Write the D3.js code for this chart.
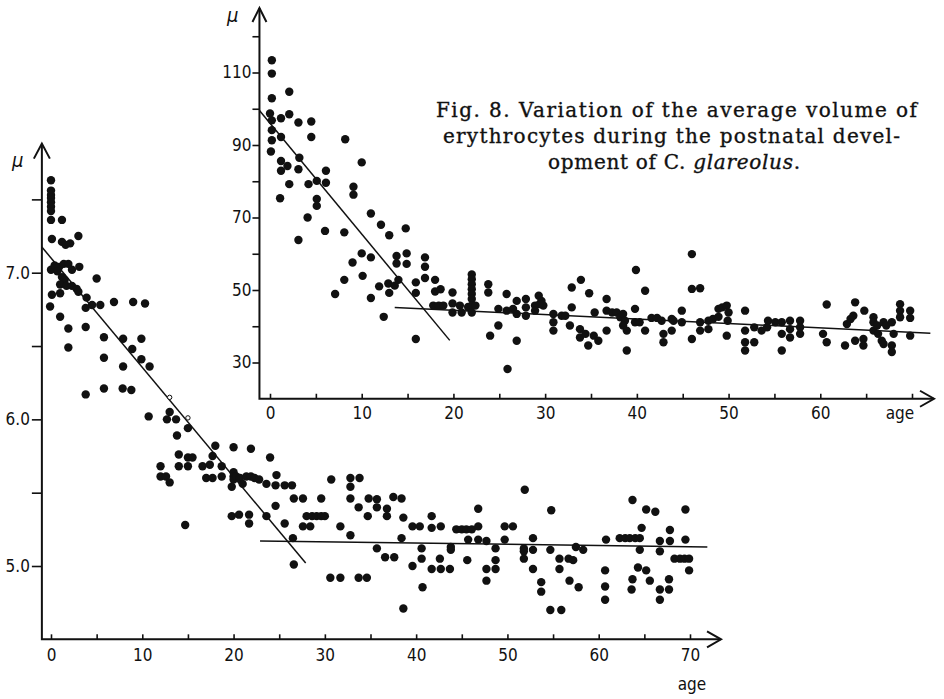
<!DOCTYPE html>
<html>
<head>
	<script src="https://d3js.org/d3.v7.min.js"></script>
	<title></title>
	<style type="text/css">
		body{ margin:0; background:#fff; }
		#chart{ width:944px; height:699px; }
		.tick text{ font-family:"DejaVu Sans Condensed","Liberation Sans Narrow","DejaVu Sans",sans-serif; font-stretch:condensed; font-size:17px; fill:#111; }
		.tick line{ stroke:#111; stroke-width:1.6px; }
		.axis-line{ fill:none; stroke:#111; stroke-width:2px; }
		.fit{ fill:none; stroke:#111; stroke-width:1.5px; }
		.lbl{ font-family:"DejaVu Sans Condensed","DejaVu Sans",sans-serif; font-stretch:condensed; font-size:17px; fill:#111; }
		.caption{ font-family:"DejaVu Serif","Liberation Serif",serif; font-size:20px; fill:#111; stroke:#111; stroke-width:0.35px; }
	</style>
</head>
<body>

	<div id="chart"></div>

	<script type="text/javascript">

		// lower panel: [age, volume]
		var lowerPts = [
			[0,7.63],[0,7.56],[0,7.53],[0,7.51],[0,7.48],[0,7.45],[0,7.42],[0,7.36],[0.1,7.23],[0,7.02],[0.1,6.85],[-0.1,6.77],
			[1.2,7.36],[1.2,7.21],[1.6,7.19],[2.1,7.20],[3,7.25],
			[0.4,7.05],[0.9,7.04],[1.4,7.06],[1.9,7.06],[2.3,7.02],[3.1,7.04],[0.7,7.01],[1.2,6.97],[1.5,6.95],[1.0,6.92],[1.7,6.91],
			[2.3,6.91],[2.8,6.89],[1.0,6.86],[3.0,6.87],[5.0,6.96],[3.9,6.83],[3.8,6.76],[4.5,6.78],[5.4,6.78],[1.0,6.70],[6.9,6.80],
			[9.0,6.80],[10.3,6.79],
			[1.9,6.62],[1.9,6.49],[3.8,6.63],[5.8,6.56],[5.8,6.42],[7.9,6.55],[7.9,6.36],[8.9,6.48],[9.9,6.55],[9.9,6.41],[10.8,6.36],
			[3.8,6.17],[5.8,6.21],[7.85,6.21],[8.8,6.20],[10.7,6.02],
			[13,6.05],[12.7,6.0],[13.7,6.0],[15,5.94],[13.8,5.89],
			[18,5.82],[20,5.81],[21.9,5.80],[24,5.74],
			[14,5.76],[15,5.74],[15.5,5.74],
			[12,5.68],[12,5.61],[12.6,5.61],[13,5.57],
			[14,5.68],[15,5.68],[16.6,5.68],[17.4,5.69],[17.7,5.75],[18.7,5.68],[20,5.64],
			[17,5.60],[17.7,5.60],[18.7,5.61],
			[20,5.61],[20,5.59],[20.3,5.61],[20.7,5.60],[21.4,5.61],[21.9,5.61],[22.3,5.60],[22.8,5.59],
			[19.8,5.54],[21,5.56],
			[23.6,5.56],[24.6,5.55],[24.7,5.62],[25.6,5.55],[26.4,5.55],[26.6,5.46],
			[24.6,5.41],
			[19.8,5.34],[20.6,5.35],[21.7,5.35],[21.7,5.29],[23.6,5.34],
			[14.7,5.28],
			[25.6,5.29],[26.5,5.19],[26.6,5.01],
			[27.6,5.46],[29.6,5.46],[27.6,5.27],[28.4,5.27],
			[28.0,5.34],[28.6,5.34],[29.1,5.34],[29.6,5.34],[30.0,5.34],
			[30.7,5.59],[31.7,5.27],
			[32.8,5.60],[32.8,5.54],[32.8,5.46],[32.8,5.21],
			[33.8,5.60],[33.7,5.40],[34.8,5.46],[34.7,5.34],
			[35.7,5.455],[35.7,5.40],[36.8,5.39],[36.8,5.34],
			[35.7,5.12],[36.6,5.06],[37.6,5.06],
			[37.5,5.47],[38.4,5.46],[38.6,5.33],[38.4,5.19],
			[30.6,4.92],[31.7,4.92],[33.7,4.92],[34.6,4.92],
			[38.6,4.71],
			[39.6,5.27],[40.4,5.27],[39.6,5.0],
			[40.6,5.12],[40.6,5.05],[40.7,4.855],
			[41.7,5.34],[41.7,5.26],[42.7,5.27],
			[42.6,5.05],[41.7,4.98],[42.7,4.98],[43.7,4.98],
			[43.8,5.13],[43.8,5.11],
			[44.4,5.25],[45.0,5.25],[45.5,5.25],[46.1,5.25],[46.8,5.27],
			[46.8,5.39],[45.7,5.18],[46.8,5.18],[45.6,5.04],
			[47.7,5.17],[47.7,4.98],[47.7,4.90],
			[48.7,5.12],[48.7,5.04],[48.7,4.98],
			[49.7,5.27],[50.6,5.27],[49.7,5.18],
			[51.9,5.52],[51.8,5.12],[51.8,5.10],[51.8,5.05],
			[52.8,5.19],[52.8,5.11],[52.8,4.98],
			[53.7,4.89],[53.7,4.825],
			[54.8,5.38],[54.7,5.11],[54.7,4.70],[55.9,4.70],
			[55.7,5.05],[55.7,4.98],
			[56.7,5.05],[57.2,5.04],[57.5,5.13],[58.3,5.11],
			[56.8,4.90],[57.8,4.855],
			[60.8,5.18],[60.7,4.97],[60.7,4.86],[60.7,4.77],
			[62.3,5.19],[62.9,5.19],[63.4,5.19],[64.0,5.19],[64.5,5.19],
			[63.7,5.45],[65.2,5.385],[66.2,5.37],[64.7,5.26],[64.5,5.11],
			[64.3,4.99],[65.2,4.97],[63.7,4.91],[63.6,4.84],[65.6,4.90],
			[66.7,5.17],[66.7,5.10],[66.7,4.84],[66.7,4.77],
			[67.8,5.245],[67.8,5.17],[67.7,4.91],[67.7,4.84],
			[68.3,5.05],[68.9,5.05],[69.4,5.05],[69.9,5.05],
			[69.5,5.385],[69.5,5.18],[69.9,4.97]
		];
		var lowerOpen = [[13,6.15],[15,6.01]];

		// upper panel: [age, volume]
		var upperPts = [
			[0.2,113.4],[0.2,109.7],[0.2,102.9],[0,98.7],[0.2,96.8],[0.2,94.1],[0.2,91.3],[0.1,88.2],
			[1.2,97.4],[1.2,92.2],[2.1,104.7],[2.1,98.5],
			[1.2,85.6],[1.2,82.9],[1.9,84.2],[2.1,79.2],
			[3.1,96.2],[3.2,86.5],[3.1,83.3],
			[4.5,96.5],[4.5,92.2],[4.2,79.2],
			[5.1,80.1],[6.1,82.9],[6.1,79.6],
			[8.2,91.6],[10,85.2],[9.1,78.5],[9.1,76.3],
			[1.1,75.3],[5.1,75.1],[5.1,73.2],[4.1,70.0],[3.1,63.8],[6.0,66.3],[8.1,65.9],
			[11.0,71.1],[12.1,68.0],[13.0,65.1],[14.8,67.0],
			[10.0,60.1],[9.0,57.6],[11.0,59.0],[13.8,59.4],[13.8,57.3],[14.9,60.1],[14.9,57.2],[16.9,59.0],[16.9,56.4],
			[8.1,52.8],[7.1,48.9],[10.1,53.9],[11.0,47.8],[11.9,51.0],[12.9,51.8],[13.0,49.2],[13.6,51.2],[14.0,52.8],
			[12.4,42.6],[15.9,52.1],[15.9,49.2],[16.9,53.3],[18.0,52.8],[18.0,49.6],[18.6,50.2],[15.9,36.5],
			[17.8,45.7],[18.4,45.7],[18.9,45.7],[19.9,49.3],[19.9,46.3],[19.9,43.8],[20.7,45.7],[20.9,43.8],[21.6,45.3],
			[22,54.3],[22,53.0],[22,51.6],[22,50.2],[22,48.9],[22,47.5],[22,45.7],[22,43.8],[22.4,45.7],
			[23.8,51.6],[23.8,49.3],[24,37.4],[24.9,44.8],[24.9,40.2],
			[25.8,48.9],[25.8,44.3],[26.5,44.8],[25.9,28.2],
			[26.9,47.0],[26.9,43.4],[26.9,36.0],
			[27.9,47.5],[27.9,45.2],[27.9,42.9],[28.9,45.7],[28.9,44.3],
			[29.3,48.4],[29.6,47.0],[29.8,45.7],[29.4,46.1],
			[30.9,43.4],[30.9,41.1],[30.9,38.8],[31.8,42.9],[32.2,42.9],[32.7,40.2],
			[32.9,50.7],[32.9,45.2],[33.9,52.8],[33.8,39.2],[33.8,36.9],[34.4,37.9],
			[34.8,49.1],[34.7,34.7],[35.3,37.4],[35.8,36.0],[35.4,43.8],
			[36.7,47.5],[36.7,44.3],[36.7,38.8],[37.3,43.8],[37.8,43.8],[38.2,42.5],
			[38.5,43.4],[38.7,41.5],[38.5,40.2],[38.9,38.8],[38.9,33.3],
			[39.9,55.5],[39.8,44.8],[39.8,41.1],[40.3,41.1],[40.9,49.8],[40.9,38.8],
			[41.6,42.3],[42.2,42.3],[42.7,41.5],[42.9,37.9],[42.9,35.6],
			[43.8,42.0],[44.0,41.5],[43.8,38.8],[44.9,44.3],[44.9,41.1],
			[46.0,59.9],[46.0,50.3],[46.9,50.5],[46.0,36.5],[46.9,41.1],[46.9,38.8],
			[47.8,41.5],[47.8,39.2],[48.3,42.0],[48.9,42.6],
			[48.9,44.8],[49.3,45.2],[49.8,45.7],[50.0,43.8],[49.9,41.5],[49.8,37.4],
			[51.8,44.3],[51.8,38.8],[51.8,35.6],[51.8,33.3],[52.8,39.7],[52.8,35.6],
			[53.6,38.8],[54.2,39.7],[54.3,41.5],[55.1,41.1],
			[55.8,41.1],[55.8,37.9],[55.8,33.3],
			[56.7,41.5],[56.7,39.2],[56.7,36.9],[57.8,41.5],[57.8,39.7],[57.8,37.9],
			[60.7,46.0],[60.3,37.9],[60.7,35.6],
			[62.7,34.7],[62.9,40.6],[63.3,42.0],[63.6,42.9],[63.8,46.6],
			[63.8,36.0],[64.7,36.5],[64.7,34.7],[64.8,44.3],
			[65.8,42.5],[65.8,41.1],[65.8,38.8],[66.2,40.2],[66.3,37.9],
			[66.7,36.0],[66.9,35.1],[66.9,41.1],[67.2,40.2],
			[67.8,41.1],[67.8,34.7],[67.8,32.9],[68,37.9],
			[68.7,46.1],[68.7,44.3],[68.7,42.5],
			[69.8,44.3],[69.8,42.3],[69.8,37.4]
		];

		var lowerFits = [ [[-1,7.175],[27.9,5.02]], [[22.9,5.17],[71.9,5.13]] ];
		var upperFits = [ [[-1.15,99.5],[19.6,36.1]], [[13.6,45.2],[72,38.1]] ];

		var ageTicks = d3.range(0, 71, 5);
		var lowerYTicks = [5, 5.5, 6, 6.5, 7, 7.5];
		var upperYTicks = [30, 40, 50, 60, 70, 80, 90, 100, 110, 120];

		var captionLines = [
			"Fig. 8. Variation of the average volume of",
			"erythrocytes during the postnatal devel-"
		];

		var svg = d3.select("#chart")
		  .append("svg")
		  .attr('height', 699)
		  .attr('width', 944)
		  .style('background-color', '#fff');

		// ---------- lower panel ----------
		var xL = d3.scaleLinear().domain([0, 70]).range([51, 690]);
		var yL = d3.scaleLinear().domain([5, 7]).range([566, 272.7]);

		var lx0 = xL(-1), ly0 = yL(4.5);

		svg.append('g').attr('transform', 'translate(0,' + ly0 + ')')
		  .call(d3.axisBottom(xL).tickValues(ageTicks).tickSize(-5).tickPadding(10)
		    .tickFormat(function(d){ return d % 10 == 0 ? d : ""; }))
		  .call(function(g){ g.select(".domain").remove(); });

		svg.append('g').attr('transform', 'translate(' + lx0 + ',0)')
		  .call(d3.axisLeft(yL).tickValues(lowerYTicks).tickSize(10).tickPadding(2)
		    .tickFormat(function(d){ return d % 1 == 0 ? d3.format(".1f")(d) : ""; }))
		  .call(function(g){ g.select(".domain").remove(); });

		svg.append('path').attr('class', 'axis-line')
		  .attr('d', 'M' + lx0 + ',' + yL(7.88) + 'V' + ly0 + 'H' + xL(73.4));
		svg.append('path').attr('class', 'axis-line')
		  .attr('d', 'M' + (lx0 - 8) + ',' + (yL(7.88) + 15) + 'L' + lx0 + ',' + yL(7.88) + 'L' + (lx0 + 8) + ',' + (yL(7.88) + 15));
		svg.append('path').attr('class', 'axis-line')
		  .attr('d', 'M' + (xL(73.4) - 14) + ',' + (ly0 - 8) + 'L' + xL(73.4) + ',' + ly0 + 'L' + (xL(73.4) - 14) + ',' + (ly0 + 8));

		svg.append('text').attr('class', 'lbl').attr('x', 692).attr('y', 690)
		  .attr('text-anchor', 'middle').text('age');
		svg.append('text').attr('class', 'lbl').attr('x', 12).attr('y', 167)
		  .style('font-style', 'italic').style('font-size', '20px').text('µ');

		var line = d3.line()
		  .x(function(d){ return xL(d[0]) })
		  .y(function(d){ return yL(d[1]) });

		svg.append('g').selectAll('path').data(lowerFits).enter()
		  .append('path').attr('class', 'fit').attr('d', line);

		svg.append('g').selectAll('circle').data(lowerPts).enter()
		  .append('circle')
		  .attr('cx', function(d){ return xL(d[0]) })
		  .attr('cy', function(d){ return yL(d[1]) })
		  .attr('r', 4.2)
		  .attr('fill', '#111');

		svg.append('g').selectAll('circle').data(lowerOpen).enter()
		  .append('circle')
		  .attr('cx', function(d){ return xL(d[0]) })
		  .attr('cy', function(d){ return yL(d[1]) })
		  .attr('r', 2.2)
		  .attr('fill', '#fff').attr('stroke', '#111').attr('stroke-width', 1);

		// ---------- upper panel ----------
		var xU = d3.scaleLinear().domain([0, 70]).range([270, 912]);
		var yU = d3.scaleLinear().domain([30, 110]).range([362.5, 72.5]);

		var ux0 = xU(-1.15), uy0 = yU(20);

		svg.append('g').attr('transform', 'translate(0,' + uy0 + ')')
		  .call(d3.axisBottom(xU).tickValues(ageTicks).tickSize(-5).tickPadding(8)
		    .tickFormat(function(d){ return (d % 10 == 0 && d < 70) ? d : ""; }))
		  .call(function(g){ g.select(".domain").remove(); });

		svg.append('g').attr('transform', 'translate(' + ux0 + ',0)')
		  .call(d3.axisLeft(yU).tickValues(upperYTicks).tickSize(7).tickPadding(1)
		    .tickFormat(function(d){ return (d % 20 == 10 && d < 120) ? d : ""; }))
		  .call(function(g){ g.select(".domain").remove(); });

		svg.append('path').attr('class', 'axis-line')
		  .attr('d', 'M' + ux0 + ',' + yU(127.8) + 'V' + uy0 + 'H' + xU(72.4));
		svg.append('path').attr('class', 'axis-line')
		  .attr('d', 'M' + (ux0 - 7) + ',' + (yU(127.8) + 14) + 'L' + ux0 + ',' + yU(127.8) + 'L' + (ux0 + 7) + ',' + (yU(127.8) + 14));
		svg.append('path').attr('class', 'axis-line')
		  .attr('d', 'M' + (xU(72.4) - 14) + ',' + (uy0 - 8) + 'L' + xU(72.4) + ',' + uy0 + 'L' + (xU(72.4) - 14) + ',' + (uy0 + 8));

		svg.append('text').attr('class', 'lbl').attr('x', 900).attr('y', 419)
		  .attr('text-anchor', 'middle').text('age');
		svg.append('text').attr('class', 'lbl').attr('x', 227).attr('y', 22)
		  .style('font-style', 'italic').style('font-size', '20px').text('µ');

		var lineU = d3.line()
		  .x(function(d){ return xU(d[0]) })
		  .y(function(d){ return yU(d[1]) });

		svg.append('g').selectAll('path').data(upperFits).enter()
		  .append('path').attr('class', 'fit').attr('d', lineU);

		svg.append('g').selectAll('circle').data(upperPts).enter()
		  .append('circle')
		  .attr('cx', function(d){ return xU(d[0]) })
		  .attr('cy', function(d){ return yU(d[1]) })
		  .attr('r', 4.2)
		  .attr('fill', '#111');

		// ---------- caption ----------
		svg.append('text').attr('class', 'caption').attr('x', 436).attr('y', 117)
		  .attr('textLength', 481).attr('lengthAdjust', 'spacing').text(captionLines[0]);
		svg.append('text').attr('class', 'caption').attr('x', 443).attr('y', 143)
		  .attr('textLength', 457).attr('lengthAdjust', 'spacing').text(captionLines[1]);
		var c3 = svg.append('text').attr('class', 'caption').attr('x', 548).attr('y', 169)
		  .attr('textLength', 252).attr('lengthAdjust', 'spacing');
		c3.append('tspan').text('opment of C. ');
		c3.append('tspan').style('font-style', 'italic').text('glareolus');
		c3.append('tspan').text('.');

	</script>

</body>
</html>
